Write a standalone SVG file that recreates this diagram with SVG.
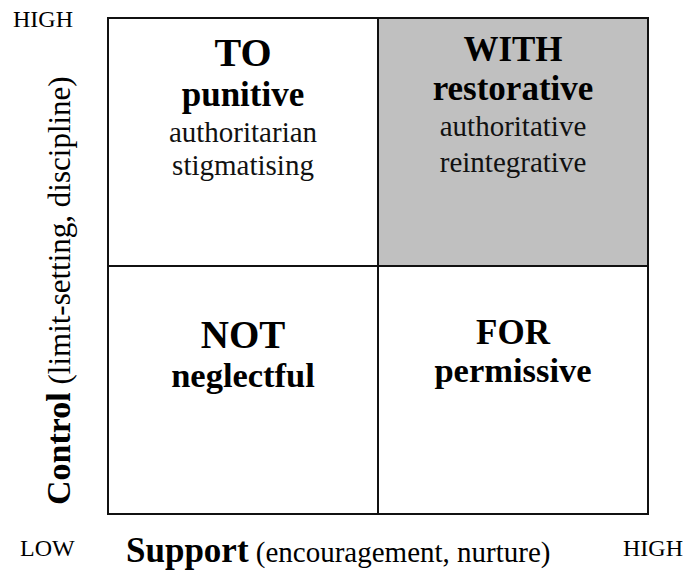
<svg xmlns="http://www.w3.org/2000/svg" width="684" height="571" viewBox="0 0 684 571">
<style>
text{font-family:"Liberation Serif","Times New Roman",serif;fill:#000}
.cell{fill:#fff;stroke:#111;stroke-width:2}
.shaded{fill:#c0c0c0}
.h1{font-weight:bold;text-anchor:middle}
.reg{text-anchor:middle;font-size:29px;fill:#111}
.axis{font-size:24px}
</style>
<rect width="684" height="571" fill="#fff"/>
<g id="cell-to">
<rect class="cell" x="108" y="18" width="270" height="248"/>
<text class="h1" x="243" y="66" font-size="40">TO</text>
<text class="h1" x="243" y="106" font-size="35">punitive</text>
<text class="reg" x="243" y="141.5">authoritarian</text>
<text class="reg" x="243" y="175">stigmatising</text>
</g>
<g id="cell-with">
<rect class="cell shaded" x="378" y="18" width="270" height="248"/>
<text class="h1" x="513" y="61" font-size="35">WITH</text>
<text class="h1" x="513" y="100" font-size="35">restorative</text>
<text class="reg" x="513" y="136">authoritative</text>
<text class="reg" x="513" y="171.5">reintegrative</text>
</g>
<g id="cell-not">
<rect class="cell" x="108" y="266" width="270" height="248"/>
<text class="h1" x="243" y="348" font-size="39">NOT</text>
<text class="h1" x="243" y="387" font-size="34.5">neglectful</text>
</g>
<g id="cell-for">
<rect class="cell" x="378" y="266" width="270" height="248"/>
<text class="h1" x="513" y="344" font-size="35">FOR</text>
<text class="h1" x="513" y="381.5" font-size="34.5">permissive</text>
</g>
<g id="connectors"></g>
<g id="axis-labels">
<text class="axis" x="13" y="27">HIGH</text>
<text class="axis" x="20" y="556" font-size="23">LOW</text>
<text class="axis" x="623" y="556">HIGH</text>
<text x="126" y="561.5"><tspan font-weight="bold" font-size="35">Support</tspan><tspan font-size="29"> (encouragement, nurture)</tspan></text>
<text transform="translate(70,505) rotate(-90)"><tspan font-weight="bold" font-size="34">Control</tspan><tspan font-size="31"> (limit-setting, discipline)</tspan></text>
</g>
</svg>
